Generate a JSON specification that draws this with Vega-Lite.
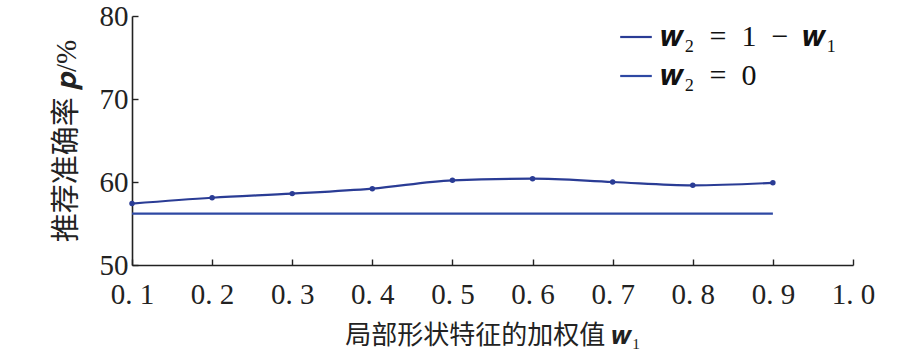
{
  "$schema": "https://vega.github.io/schema/vega-lite/v6.json",
  "autosize": {"type": "none"},
  "width": 721,
  "height": 249,
  "padding": {"left": 132, "top": 16, "right": 57, "bottom": 88},
  "background": "white",
  "config": {
    "view": {"stroke": null},
    "font": "Liberation Serif",
    "axis": {
      "domainColor": "#222222",
      "domainWidth": 1.6,
      "tickColor": "#222222",
      "tickWidth": 1.4,
      "tickSize": -6,
      "grid": false,
      "labelFont": "Liberation Serif",
      "labelColor": "#222222",
      "titleFont": "Liberation Serif, Noto Sans CJK SC",
      "titleFontWeight": "normal",
      "titleColor": "#222222"
    }
  },
  "data": {
    "values": [
      {"w1": 0.1, "p": 57.4, "s": "A"},
      {"w1": 0.2, "p": 58.1, "s": "A"},
      {"w1": 0.3, "p": 58.6, "s": "A"},
      {"w1": 0.4, "p": 59.2, "s": "A"},
      {"w1": 0.5, "p": 60.2, "s": "A"},
      {"w1": 0.6, "p": 60.4, "s": "A"},
      {"w1": 0.7, "p": 60.0, "s": "A"},
      {"w1": 0.8, "p": 59.6, "s": "A"},
      {"w1": 0.9, "p": 59.9, "s": "A"},
      {"w1": 0.1, "p": 56.2, "s": "B"},
      {"w1": 0.9, "p": 56.2, "s": "B"}
    ]
  },
  "encoding": {
    "x": {
      "field": "w1",
      "type": "quantitative",
      "scale": {"domain": [0.1, 1.0], "nice": false, "zero": false},
      "axis": {
        "values": [0.1, 0.2, 0.3, 0.4, 0.5, 0.6, 0.7, 0.8, 0.9, 1.0],
        "labelExpr": "replace(format(datum.value, '.1f'), '.', '. ')",
        "labelFontSize": 29,
        "labelPadding": 21,
        "labelFlush": false,
        "title": "局部形状特征的加权值 𝒘₁",
        "titleFontSize": 26,
        "titlePadding": 13
      }
    },
    "y": {
      "field": "p",
      "type": "quantitative",
      "scale": {"domain": [50, 80], "nice": false, "zero": false},
      "axis": {
        "values": [50, 60, 70, 80],
        "labelFontSize": 29,
        "labelPadding": 10,
        "title": "推荐准确率 𝒑/%",
        "titleFontSize": 29,
        "titlePadding": 18
      }
    },
    "color": {
      "field": "s",
      "type": "nominal",
      "scale": {"domain": ["A", "B"], "range": ["#2a3c95", "#2e48a3"]},
      "legend": {
        "orient": "none",
        "legendX": 487,
        "legendY": 4,
        "title": null,
        "symbolType": "stroke",
        "symbolStrokeWidth": 2.2,
        "symbolSize": 1000,
        "labelExpr": "datum.value == 'A' ? '𝒘₂\u2002=\u20021\u2002−\u2002𝒘₁' : '𝒘₂\u2002=\u20020'",
        "labelFont": "Liberation Serif",
        "labelFontSize": 30,
        "labelLimit": 400,
        "labelColor": "#111111",
        "rowPadding": 7,
        "labelOffset": 8
      }
    }
  },
  "layer": [
    {"mark": {"type": "line", "strokeWidth": 2.2, "interpolate": "monotone"}},
    {
      "transform": [{"filter": "datum.s == 'A'"}],
      "mark": {"type": "point", "filled": true, "size": 30, "opacity": 1}
    }
  ]
}
